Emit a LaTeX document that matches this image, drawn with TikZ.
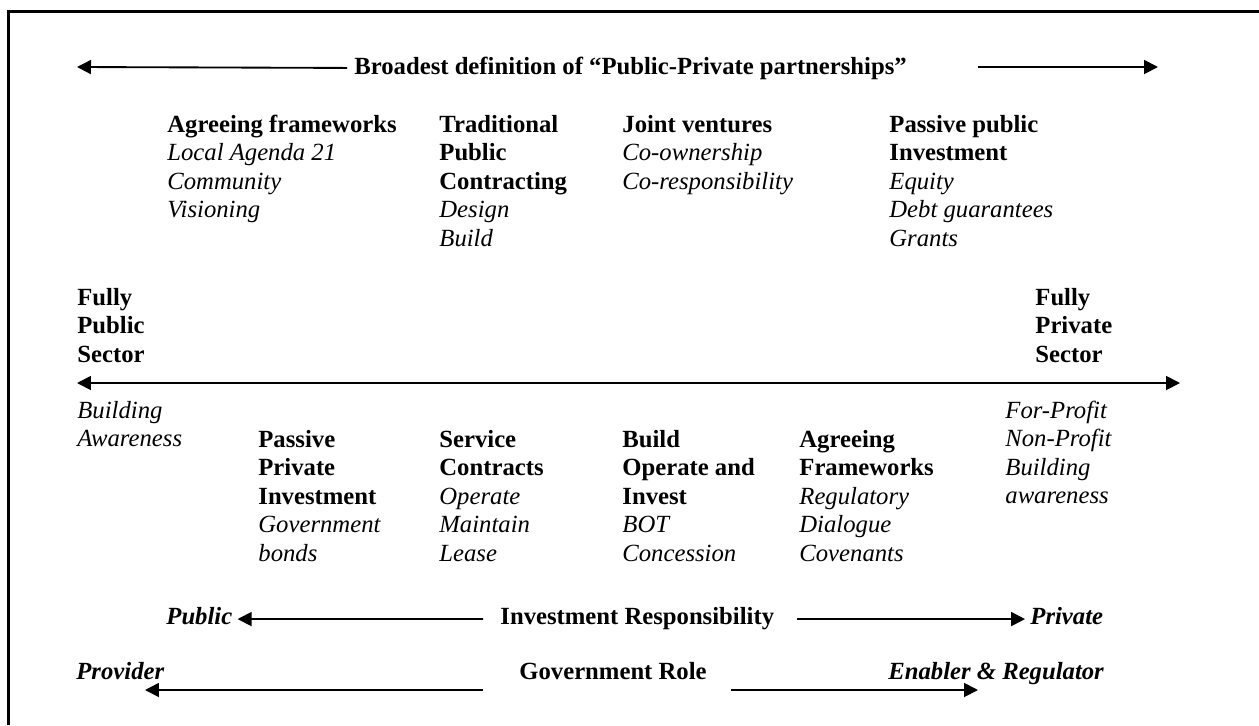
\documentclass[tikz,border=0pt]{standalone}
\usepackage{fontspec}
\setmainfont{Liberation Serif}
\usetikzlibrary{arrows.meta}
\newcommand{\cellstack}[1]{\begin{tabular}[t]{@{}l@{}}#1\end{tabular}}

\begin{document}
\begin{tikzpicture}[x=0.486pt, y=-0.486pt,
  font=\fontsize{12}{13.9}\selectfont,
  txt/.style={anchor=base west, inner sep=0pt},
  arr/.style={-{Triangle[length=6.8pt,width=6.8pt]}, line width=0.9pt},
  dblarr/.style={{Triangle[length=6.8pt,width=6.8pt]}-{Triangle[length=6.8pt,width=6.8pt]}, line width=0.9pt}]

\useasboundingbox (0,0) rectangle (1259,725);

% Frame
\draw[line width=1pt] (8.5,725) -- (8.5,11.5) -- (1259,11.5);

% Heading and its arrows
\node[txt] (broad) at (354,74) {\textbf{Broadest definition of ``Public-Private partnerships''}};
\coordinate (broadL) at (77,67);
\coordinate (broadRs) at (978,67);
\coordinate (broadRe) at (1158,67);
\draw[arr] ([xshift=-3.4pt]broad.west) -- (broadL);
\draw[arr] (broadRs) -- (broadRe);

% Upper row of partnership types
\node[txt] (agree) at (167,132) {\cellstack{\textbf{Agreeing frameworks}\\\textit{Local Agenda 21}\\\textit{Community}\\\textit{Visioning}}};
\node[txt] (trad) at (439,132) {\cellstack{\textbf{Traditional}\\\textbf{Public}\\\textbf{Contracting}\\\textit{Design}\\\textit{Build}}};
\node[txt] (joint) at (622,132) {\cellstack{\textbf{Joint ventures}\\\textit{Co-ownership}\\\textit{Co-responsibility}}};
\node[txt] (passpub) at (889,132) {\cellstack{\textbf{Passive public}\\\textbf{Investment}\\\textit{Equity}\\\textit{Debt guarantees}\\\textit{Grants}}};

% Sector ends
\node[txt] (fullpub) at (77,305) {\cellstack{\textbf{Fully}\\\textbf{Public}\\\textbf{Sector}}};
\node[txt] (fullpriv) at (1035,305) {\cellstack{\textbf{Fully}\\\textbf{Private}\\\textbf{Sector}}};

% Spectrum axis
\coordinate (axisL) at (77,383);
\coordinate (axisR) at (1180,383);
\draw[dblarr] (axisL) -- (axisR);

% Lower row of partnership types
\node[txt] (buildaw) at (77,418) {\cellstack{\textit{Building}\\\textit{Awareness}}};
\node[txt] (passpriv) at (258,447) {\cellstack{\textbf{Passive}\\\textbf{Private}\\\textbf{Investment}\\\textit{Government}\\\textit{bonds}}};
\node[txt] (service) at (439,447) {\cellstack{\textbf{Service}\\\textbf{Contracts}\\\textit{Operate}\\\textit{Maintain}\\\textit{Lease}}};
\node[txt] (boi) at (622,447) {\cellstack{\textbf{Build}\\\textbf{Operate and}\\\textbf{Invest}\\\textit{BOT}\\\textit{Concession}}};
\node[txt] (agreefw) at (799,447) {\cellstack{\textbf{Agreeing}\\\textbf{Frameworks}\\\textit{Regulatory}\\\textit{Dialogue}\\\textit{Covenants}}};
\node[txt] (profit) at (1005,418) {\cellstack{\textit{For-Profit}\\\textit{Non-Profit}\\\textit{Building}\\\textit{awareness}}};

% Investment responsibility
\node[txt] (pub) at (166,624) {\textbf{\textit{Public}}};
\node[txt] (invresp) at (500,624) {\textbf{Investment Responsibility}};
\node[txt] (priv) at (1030,624) {\textbf{\textit{Private}}};
\coordinate (irLs) at (483,619);
\coordinate (irRs) at (797,619);
\draw[arr] (irLs) -- ([shift={(2.4pt,2.4pt)}]pub.base east);
\draw[arr] (irRs) -- ([shift={(-2.4pt,2.4pt)}]priv.base west);

% Government role
\node[txt] (prov) at (76,679) {\textbf{\textit{Provider}}};
\node[txt] (govrole) at (519,679) {\textbf{Government Role}};
\node[txt] (enab) at (888,679) {\textbf{\textit{Enabler \& Regulator}}};
\coordinate (grLs) at (483,690);
\coordinate (grLe) at (145,690);
\coordinate (grRs) at (731,690);
\coordinate (grRe) at (978,690);
\draw[arr] (grLs) -- (grLe);
\draw[arr] (grRs) -- (grRe);

\end{tikzpicture}
\end{document}
